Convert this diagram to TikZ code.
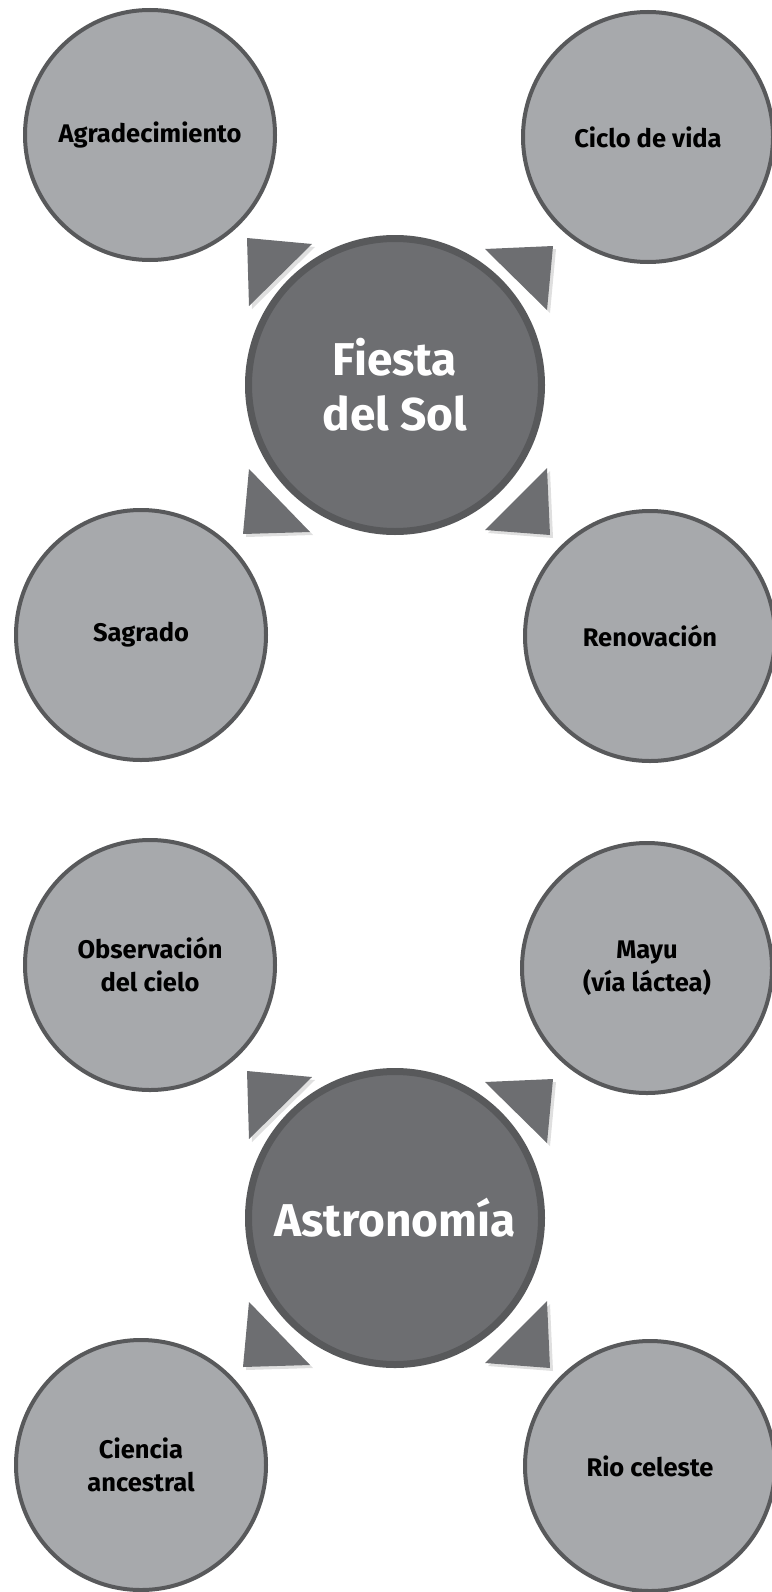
\documentclass[tikz,border=0pt]{standalone}
\usepackage{fontspec}
\setmainfont{Fira Sans}
\usepackage{tikz}
\usetikzlibrary{shadows}
\definecolor{hubgray}{RGB}{109,110,113}
\definecolor{topicgray}{RGB}{167,169,172}
\definecolor{rimgray}{RGB}{88,89,91}

\begin{document}
\begin{tikzpicture}[
  x=1pt,y=-1pt,
  every node/.style={font=\fontsize{25.5}{33}\selectfont\bfseries},
  hubnode/.style={circle,draw=rimgray,line width=7pt,fill=hubgray,minimum size=293pt,inner sep=0pt,align=center,text=white,font=\fontsize{46}{55}\selectfont\bfseries},
  topicnode/.style={circle,draw=rimgray,line width=4pt,fill=topicgray,minimum size=250pt,inner sep=0pt,align=center},
  pointer/.style={fill=hubgray,drop shadow={shadow xshift=3pt,shadow yshift=-3pt,opacity=0.25}}
]
\useasboundingbox (0,0) rectangle (771,1592);
% Fiesta del Sol
\node[hubnode] (fiesta) at (395,385) {Fiesta\\del Sol};
\node[topicnode] (agr) at (150,135) {Agradecimiento};
\node[topicnode] (ciclo) at (648,137) {Ciclo de vida};
\node[topicnode] (sagr) at (141,635) {Sagrado};
\node[topicnode] (renov) at (650,636) {Renovación};
% Astronomia
\node[hubnode] (astro) at (395,1218) {Astronomía};
\node[topicnode] (obs) at (150,965) {Observación\\del cielo};
\node[topicnode] (mayu) at (647,968) {Mayu\\(vía láctea)};
\node[topicnode] (ciencia) at (141,1465) {Ciencia\\ancestral};
\node[topicnode] (rio) at (650,1466) {Rio celeste};
% pointers round each hub
\foreach \hub in {fiesta,astro}{
  \begin{scope}[shift={(\hub)}]
    \fill[pointer] (-148,-147) -- (-83,-141) -- (-146,-79) -- cycle;
    \fill[pointer] (158,-139) -- (90,-136) -- (152,-75) -- cycle;
    \fill[pointer] (-152,149) -- (-146,84) -- (-85,147) -- cycle;
    \fill[pointer] (155,150) -- (152,83) -- (90,145) -- cycle;
  \end{scope}
}
\end{tikzpicture}
\end{document}
